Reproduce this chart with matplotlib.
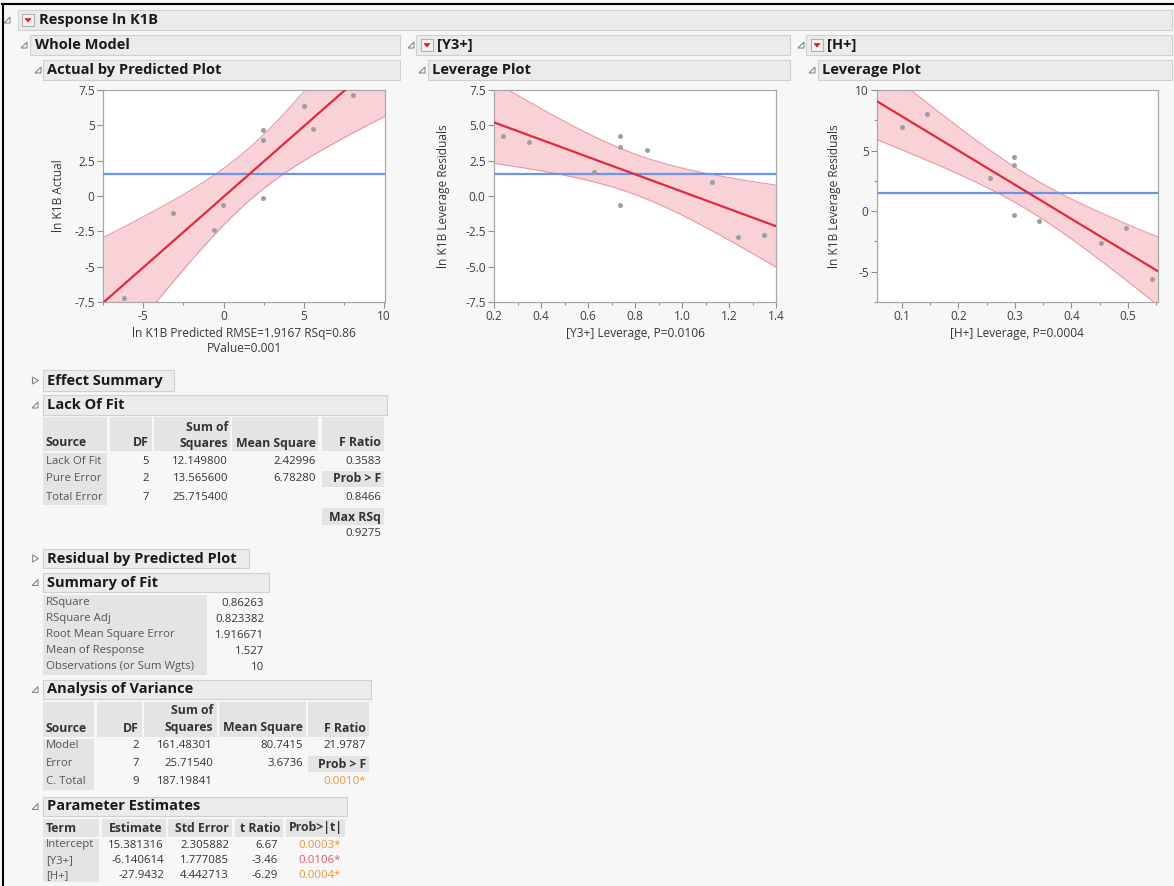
import numpy as np
import matplotlib
matplotlib.use('Agg')
import matplotlib.pyplot as plt
from matplotlib.patches import Rectangle, Polygon
from matplotlib.lines import Line2D

ap_pred = [-6.2, -3.15, -0.62, -0.06, 2.47, 2.47, 2.47, 4.98, 5.56, 8.05]
ap_actual = [-7.2, -1.18, -2.43, -0.61, 4.68, 3.97, -0.14, 6.38, 4.75, 7.13]

y3_lev_x = [0.237, 0.349, 0.625, 0.737, 0.737, 0.737, 0.849, 1.126, 1.240, 1.350]
y3_lev_y = [4.26, 3.79, 1.72, 4.21, 3.50, -0.61, 3.22, 1.01, -2.89, -2.77]

h_lev_x = [0.100, 0.145, 0.255, 0.299, 0.299, 0.299, 0.343, 0.453, 0.497, 0.542]
h_lev_y = [6.94, 7.99, 2.75, 4.49, 3.80, -0.33, -0.80, -2.64, -1.38, -5.59]

mean_response = 1.527
rmse = 1.916671
n_obs = 10
t_crit = 2.3646            # t(0.975, 7)
f_crit = 4.7374            # F(0.95, 2, 7)

ap_xticks = [-5, 0, 5, 10]
ap_xtick_labels = ['-5', '0', '5', '10']
ap_yticks = [-7.5, -5, -2.5, 0, 2.5, 5, 7.5]
ap_ytick_labels = ['-7.5', '-5', '-2.5', '0', '2.5', '5', '7.5']

y3_xticks = [0.2, 0.4, 0.6, 0.8, 1.0, 1.2, 1.4]
y3_xtick_labels = ['0.2', '0.4', '0.6', '0.8', '1.0', '1.2', '1.4']
y3_yticks = [-7.5, -5, -2.5, 0, 2.5, 5, 7.5]
y3_ytick_labels = ['-7.5', '-5.0', '-2.5', '0.0', '2.5', '5.0', '7.5']

h_xticks = [0.1, 0.2, 0.3, 0.4, 0.5]
h_xtick_labels = ['0.1', '0.2', '0.3', '0.4', '0.5']
h_yticks = [-5, 0, 5, 10]
h_ytick_labels = ['-5', '0', '5', '10']

lof_header1 = ['', '', 'Sum of', '', '']
lof_header2 = ['Source', 'DF', 'Squares', 'Mean Square', 'F Ratio']
lof_rows = [['Lack Of Fit', '5', '12.149800', '2.42996', '0.3583'],
            ['Pure Error', '2', '13.565600', '6.78280', 'Prob > F'],
            ['Total Error', '7', '25.715400', '', '0.8466']]
lof_extra = ['Max RSq', '0.9275']

sof_labels = ['RSquare', 'RSquare Adj', 'Root Mean Square Error',
              'Mean of Response', 'Observations (or Sum Wgts)']
sof_values = ['0.86263', '0.823382', '1.916671', '1.527', '10']

anova_header2 = ['Source', 'DF', 'Squares', 'Mean Square', 'F Ratio']
anova_rows = [['Model', '2', '161.48301', '80.7415', '21.9787'],
              ['Error', '7', '25.71540', '3.6736', 'Prob > F'],
              ['C. Total', '9', '187.19841', '', '0.0010*']]

pe_header = ['Term', 'Estimate', 'Std Error', 't Ratio', 'Prob>|t|']
pe_rows = [['Intercept', '15.381316', '2.305882', '6.67', '0.0003*'],
           ['[Y3+]', '-6.140614', '1.777085', '-3.46', '0.0106*'],
           ['[H+]', '-27.9432', '4.442713', '-6.29', '0.0004*']]
pe_pcolors = ['#e8973e', '#e0566a', '#e8973e']

# ---------------- figure helpers ----------------
W, H = 1174, 886
plt.rcParams['font.family'] = ['Open Sans', 'DejaVu Sans']
fig = plt.figure(figsize=(W / 100, H / 100), dpi=100)
fig.patch.set_facecolor('#f7f7f7')

BAR_FC = '#ebebeb'
BAR_EC = '#d0d0d0'
CELL = '#e4e4e4'
TXT = '#333333'
LBL = '#555555'
AXT = '#383838'
AXS = 8.6


def fx(x):
    return x / W


def fy(y):
    return 1 - y / H


def rect(x0, y0, x1, y1, fc, ec='none', lw=0.8, z=0):
    fig.add_artist(Rectangle((fx(x0), fy(y1)), (x1 - x0) / W, (y1 - y0) / H,
                             transform=fig.transFigure, fc=fc, ec=ec, lw=lw, zorder=z))


def text(x, y, s, ha='left', size=8, weight='normal', color=TXT):
    fig.text(fx(x), fy(y), s, ha=ha, va='center', fontsize=size,
             fontweight=weight, color=color, zorder=5)


def poly(pts, fc='none', ec='#888888', lw=0.8):
    fig.add_artist(Polygon([(fx(a), fy(b)) for a, b in pts], closed=True,
                           transform=fig.transFigure, fc=fc, ec=ec, lw=lw, zorder=5))


def tri_open(x, y, s=6):
    poly([(x - s / 2, y + s / 2), (x + s / 2, y + s / 2), (x + s / 2, y - s / 2)])


def tri_closed(x, y, s=7):
    poly([(x - s / 2 + 1, y - s / 2), (x + s / 2, y), (x - s / 2 + 1, y + s / 2)])


def red_icon(x0, yc):
    rect(x0, yc - 5.5, x0 + 12, yc + 5.5, '#f2f2f2', '#b0b0b0', z=4)
    poly([(x0 + 3, yc - 1.5), (x0 + 9, yc - 1.5), (x0 + 6, yc + 2)], fc='#e02020', ec='#e02020', lw=0.5)


def header(x0, y0, x1, y1, label, tri_x, text_x, icon_x=None, collapsed=False, size=10.5):
    rect(x0, y0, x1, y1, BAR_FC, BAR_EC)
    yc = (y0 + y1) / 2
    if collapsed:
        tri_closed(tri_x, yc)
    else:
        tri_open(tri_x, yc)
    if icon_x is not None:
        red_icon(icon_x, yc)
    text(text_x, yc, label, size=size, weight='bold', color='#1a1a1a')


# outer frame
fig.add_artist(Line2D([fx(2), fx(1174)], [fy(4), fy(4)], transform=fig.transFigure, color='black', lw=1.5))
fig.add_artist(Line2D([fx(2.5), fx(2.5)], [fy(4), fy(886)], transform=fig.transFigure, color='black', lw=1.5))

# section headers
header(18, 10, 1172, 30, 'Response ln K1B', 7, 39, icon_x=22)
header(30, 35, 400, 55, 'Whole Model', 24, 35)
header(416, 35, 790, 55, '[Y3+]', 411, 437, icon_x=421)
header(806, 35, 1172, 55, '[H+]', 801, 827, icon_x=811)
header(43, 60, 400, 80, 'Actual by Predicted Plot', 38, 47)
header(428, 60, 790, 80, 'Leverage Plot', 422, 432)
header(818, 60, 1172, 80, 'Leverage Plot', 812, 822)


# ---------------- plots ----------------
def style_ax(ax, xlim, ylim, xt, xtl, yt, ytl, xminor, yminor):
    ax.set_facecolor('white')
    ax.set_xlim(*xlim)
    ax.set_ylim(*ylim)
    ax.set_xticks(xt)
    ax.set_xticklabels(xtl)
    ax.set_yticks(yt)
    ax.set_yticklabels(ytl)
    ax.set_xticks(xminor, minor=True)
    ax.set_yticks(yminor, minor=True)
    for sp in ax.spines.values():
        sp.set_color('#a8a8a8')
        sp.set_linewidth(0.9)
    ax.tick_params(which='major', length=4, width=0.8, color='#909090',
                   labelsize=AXS, labelcolor='#404040', pad=2)
    ax.tick_params(which='minor', length=2.5, width=0.8, color='#909090')


def draw_fit(ax, x, y, xlim, mult):
    x = np.asarray(x, float)
    y = np.asarray(y, float)
    b1, b0 = np.polyfit(x, y, 1)
    xm = x.mean()
    sxx = ((x - xm) ** 2).sum()
    xs = np.linspace(xlim[0], xlim[1], 300)
    fit = b0 + b1 * xs
    half = mult * rmse * np.sqrt(1.0 / n_obs + (xs - xm) ** 2 / sxx)
    ax.fill_between(xs, fit - half, fit + half, color='#f9d2d7', lw=0, zorder=1)
    ax.plot(xs, fit - half, color='#e59aa3', lw=0.8, zorder=2)
    ax.plot(xs, fit + half, color='#e59aa3', lw=0.8, zorder=2)
    ax.axhline(mean_response, color='#6d93e8', lw=1.6, zorder=3)
    ax.plot(xs, fit, color='#e02a3e', lw=1.6, zorder=4)
    ax.plot(x, y, 'o', ms=3.6, color='#9e9e9e', mec='none', zorder=5)


def add_axes(x0, y0, x1, y1):
    return fig.add_axes([fx(x0), fy(y1), (x1 - x0) / W, (y1 - y0) / H])


def set_ylab(ax, label, xpix, ax_x0, ax_w):
    ax.set_ylabel(label, fontsize=AXS, color=AXT)
    ax.yaxis.set_label_coords((xpix - ax_x0) / ax_w, 0.5)


# Actual by predicted
ax1 = add_axes(103, 90, 385, 302)
xl1 = (-7.45, 10.05)
draw_fit(ax1, ap_pred, ap_actual, xl1, np.sqrt(2 * f_crit))
style_ax(ax1, xl1, (-7.5, 7.5), ap_xticks, ap_xtick_labels, ap_yticks, ap_ytick_labels,
         [-7.5, -2.5, 2.5, 7.5], [])
set_ylab(ax1, 'ln K1B Actual', 65, 103, 282)
text(244, 333, 'ln K1B Predicted RMSE=1.9167 RSq=0.86', ha='center', size=AXS, color=AXT)
text(244, 349, 'PValue=0.001', ha='center', size=AXS, color=AXT)

# [Y3+] leverage
ax2 = add_axes(494, 90, 776, 302)
xl2 = (0.2, 1.4)
draw_fit(ax2, y3_lev_x, y3_lev_y, xl2, t_crit)
style_ax(ax2, xl2, (-7.5, 7.5), y3_xticks, y3_xtick_labels, y3_yticks, y3_ytick_labels,
         [0.3, 0.5, 0.7, 0.9, 1.1, 1.3], [])
set_ylab(ax2, 'ln K1B Leverage Residuals', 450, 494, 282)
text(635, 333, '[Y3+] Leverage, P=0.0106', ha='center', size=AXS, color=AXT)

# [H+] leverage
ax3 = add_axes(877, 90, 1158, 302)
xl3 = (0.056, 0.553)
draw_fit(ax3, h_lev_x, h_lev_y, xl3, t_crit)
style_ax(ax3, xl3, (-7.5, 10), h_xticks, h_xtick_labels, h_yticks, h_ytick_labels,
         [0.15, 0.25, 0.35, 0.45, 0.55], [-7.5, -2.5, 2.5, 7.5])
set_ylab(ax3, 'ln K1B Leverage Residuals', 841, 877, 281)
text(1017, 333, '[H+] Leverage, P=0.0004', ha='center', size=AXS, color=AXT)

# ---------------- report tables ----------------
TS = 8.2
TB = 8.8

header(43, 370, 174, 391, 'Effect Summary', 35, 47, collapsed=True)
header(43, 395, 387, 415, 'Lack Of Fit', 35, 47)

# Lack of fit table
lof_cols = [(43, 107), (110, 152), (154, 230), (232, 318), (322, 384)]
lof_right = [None, 149, 228, 316, 381]
for (a, b) in lof_cols:
    rect(a, 417, b, 451, CELL)
rect(43, 453, 107, 505, CELL)
text(228, 427, lof_header1[2], ha='right', size=TB, weight='bold')
for i, h in enumerate(lof_header2):
    if i == 0:
        text(46, 443, h, size=TB, weight='bold')
    else:
        text(lof_right[i], 443, h, ha='right', size=TB, weight='bold')
for r, row in enumerate(lof_rows):
    yy = 461 + r * 18
    text(46, yy, row[0], size=TS, color=LBL)
    for i in range(1, 5):
        if row[i] == 'Prob > F':
            rect(322, yy - 8, 384, yy + 8, CELL)
            text(381, yy, row[i], ha='right', size=TB, weight='bold')
        else:
            text(lof_right[i], yy, row[i], ha='right', size=TS)
rect(322, 508, 384, 525, CELL)
text(381, 517, lof_extra[0], ha='right', size=TB, weight='bold')
text(381, 534, lof_extra[1], ha='right', size=TS)

header(43, 549, 249, 568, 'Residual by Predicted Plot', 35, 47, collapsed=True)

# Summary of fit
header(43, 573, 269, 592, 'Summary of Fit', 35, 47)
rect(43, 595, 207, 675, CELL)
for r, (lab, val) in enumerate(zip(sof_labels, sof_values)):
    yy = 603 + r * 16
    text(46, yy, lab, size=TS, color=LBL)
    text(264, yy, val, ha='right', size=TS)

# Analysis of variance
header(43, 680, 371, 699, 'Analysis of Variance', 35, 47)
an_cols = [(43, 94), (97, 142), (144, 217), (219, 306), (308, 369)]
an_right = [None, 139, 213, 303, 366]
for (a, b) in an_cols:
    rect(a, 702, b, 737, CELL)
rect(43, 739, 94, 790, CELL)
text(213, 711, 'Sum of', ha='right', size=TB, weight='bold')
for i, h in enumerate(anova_header2):
    if i == 0:
        text(46, 728, h, size=TB, weight='bold')
    else:
        text(an_right[i], 728, h, ha='right', size=TB, weight='bold')
for r, row in enumerate(anova_rows):
    yy = 746 + r * 18
    text(46, yy, row[0], size=TS, color=LBL)
    for i in range(1, 5):
        if row[i] == 'Prob > F':
            rect(308, yy - 8, 369, yy + 8, CELL)
            text(366, yy, row[i], ha='right', size=TB, weight='bold')
        elif row[i].endswith('*'):
            text(366, yy, row[i], ha='right', size=TS, color='#e8973e')
        else:
            text(an_right[i], yy, row[i], ha='right', size=TS)

# Parameter estimates
header(43, 797, 347, 816, 'Parameter Estimates', 35, 47)
pe_cols = [(43, 99), (102, 166), (168, 232), (235, 283), (286, 345)]
pe_right = [None, 163, 229, 280, 343]
for (a, b) in pe_cols:
    rect(a, 819, b, 837, CELL)
rect(43, 839, 99, 882, CELL)
for i, h in enumerate(pe_header):
    if i == 0:
        text(46, 828, h, size=TB, weight='bold')
    else:
        text(pe_right[i], 828, h, ha='right', size=TB, weight='bold')
for r, row in enumerate(pe_rows):
    yy = 845 + r * 15.5
    text(46, yy, row[0], size=TS, color=LBL)
    text(164, yy, row[1], ha='right', size=TS)
    text(229, yy, row[2], ha='right', size=TS)
    text(278, yy, row[3], ha='right', size=TS)
    text(341, yy, row[4], ha='right', size=TS, color=pe_pcolors[r])

fig.savefig('out.png', dpi=100, facecolor=fig.get_facecolor())
